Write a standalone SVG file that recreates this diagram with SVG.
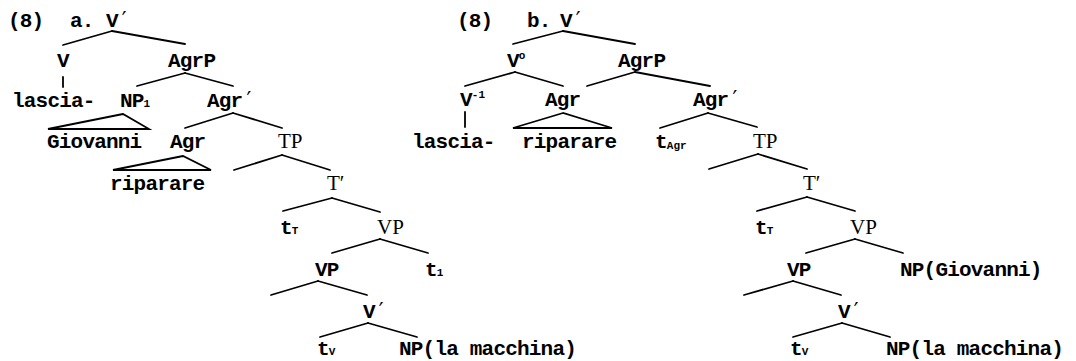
<svg xmlns="http://www.w3.org/2000/svg" width="1076" height="361" viewBox="0 0 1076 361">
<style>
text{font-family:"Liberation Mono","DejaVu Sans Mono",monospace;font-size:21px;font-weight:bold;fill:#000;letter-spacing:-0.8px}
text.s{font-family:"Liberation Serif","DejaVu Serif",serif;font-weight:normal;letter-spacing:0}
.p{font-family:"DejaVu Sans Mono",monospace;font-weight:normal}
.sub{font-size:11px;letter-spacing:0}
.sup{font-size:11px;letter-spacing:0}
#connectors line,#connectors polygon{stroke:#000;stroke-width:1.8;fill:none;stroke-linecap:round}
</style>
<rect width="1076" height="361" fill="#fff"/>
<g id="connectors">
<line x1="112" y1="31" x2="63" y2="45"/><line x1="112" y1="31" x2="185" y2="44"/>
<line x1="63" y1="77" x2="63" y2="87"/>
<line x1="185" y1="73" x2="137" y2="86"/><line x1="185" y1="73" x2="233" y2="86"/>
<polygon points="123,114 48,129 149,129"/>
<line x1="233" y1="113" x2="185" y2="128"/><line x1="233" y1="113" x2="282" y2="128"/>
<polygon points="183,156 113,170 211,170"/>
<line x1="282" y1="155" x2="234" y2="170"/><line x1="282" y1="155" x2="330" y2="170"/>
<line x1="332" y1="198" x2="283" y2="211"/><line x1="332" y1="198" x2="380" y2="212"/>
<line x1="380" y1="239" x2="332" y2="253"/><line x1="380" y1="239" x2="428" y2="253"/>
<line x1="318" y1="281" x2="271" y2="295"/><line x1="318" y1="281" x2="367" y2="295"/>
<line x1="368" y1="323" x2="320" y2="337"/><line x1="368" y1="323" x2="417" y2="337"/>
<line x1="563" y1="31" x2="513" y2="44"/><line x1="563" y1="31" x2="635" y2="44"/>
<line x1="515" y1="72" x2="465" y2="86"/><line x1="515" y1="72" x2="563" y2="86"/>
<line x1="635" y1="72" x2="587" y2="86"/><line x1="635" y1="72" x2="710" y2="86"/>
<line x1="465" y1="112" x2="465" y2="127"/>
<polygon points="563,113 513,128 612,128"/>
<line x1="708" y1="113" x2="660" y2="128"/><line x1="708" y1="113" x2="757" y2="127"/>
<line x1="758" y1="154" x2="709" y2="169"/><line x1="758" y1="154" x2="807" y2="169"/>
<line x1="807" y1="197" x2="757" y2="211"/><line x1="807" y1="197" x2="855" y2="211"/>
<line x1="855" y1="239" x2="806" y2="253"/><line x1="855" y1="239" x2="903" y2="253"/>
<line x1="793" y1="281" x2="744" y2="295"/><line x1="793" y1="281" x2="841" y2="295"/>
<line x1="842" y1="323" x2="793" y2="337"/><line x1="842" y1="323" x2="890" y2="337"/>
</g>
<g id="a-label"><text x="8" y="27">(8)</text><text x="70" y="27">a.</text></g>
<g id="a-Vbar"><text x="106" y="27">V<tspan class="p">′</tspan></text></g>
<g id="a-V"><text x="57" y="67">V</text></g>
<g id="a-AgrP"><text x="168" y="67">AgrP</text></g>
<g id="a-lascia"><text x="12" y="107">lascia-</text></g>
<g id="a-NP1"><text x="120" y="107">NP<tspan class="sub">1</tspan></text></g>
<g id="a-Agrbar"><text x="207" y="107">Agr<tspan class="p">′</tspan></text></g>
<g id="a-Giovanni"><text x="47" y="148">Giovanni</text></g>
<g id="a-Agr"><text x="170" y="148">Agr</text></g>
<g id="a-TP"><text class="s" x="278" y="148">TP</text></g>
<g id="a-riparare"><text x="110" y="190">riparare</text></g>
<g id="a-Tbar"><text class="s" x="327" y="190">T′</text></g>
<g id="a-tT"><text x="280" y="234">t<tspan class="sub">T</tspan></text></g>
<g id="a-VP1"><text class="s" x="377" y="234">VP</text></g>
<g id="a-VP2"><text x="315" y="276">VP</text></g>
<g id="a-t1"><text x="425" y="276">t<tspan class="sub">1</tspan></text></g>
<g id="a-Vbar2"><text x="363" y="318">V<tspan class="p">′</tspan></text></g>
<g id="a-tV"><text x="317" y="355">t<tspan class="sub">V</tspan></text></g>
<g id="a-NP"><text x="399" y="355">NP(la macchina)</text></g>
<g id="b-label"><text x="457" y="27">(8)</text><text x="527" y="27">b.</text></g>
<g id="b-Vbar"><text x="560" y="27">V<tspan class="p">′</tspan></text></g>
<g id="b-V0"><text x="507" y="67">V<tspan class="sup" dy="-8">o</tspan></text></g>
<g id="b-AgrP"><text x="618" y="67">AgrP</text></g>
<g id="b-V-1"><text x="460" y="106">V<tspan class="sup" dy="-8">-1</tspan></text></g>
<g id="b-Agr"><text x="545" y="106">Agr</text></g>
<g id="b-Agrbar"><text x="693" y="106">Agr<tspan class="p">′</tspan></text></g>
<g id="b-lascia"><text x="412" y="148">lascia-</text></g>
<g id="b-riparare"><text x="522" y="148">riparare</text></g>
<g id="b-tAgr"><text x="655" y="148">t<tspan class="sub" dy="1">Agr</tspan></text></g>
<g id="b-TP"><text class="s" x="753" y="148">TP</text></g>
<g id="b-Tbar"><text class="s" x="803" y="190">T′</text></g>
<g id="b-tT"><text x="755" y="234">t<tspan class="sub">T</tspan></text></g>
<g id="b-VP1"><text class="s" x="850" y="234">VP</text></g>
<g id="b-VP2"><text x="787" y="276">VP</text></g>
<g id="b-NPG"><text x="900" y="276">NP(Giovanni)</text></g>
<g id="b-Vbar2"><text x="838" y="318">V<tspan class="p">′</tspan></text></g>
<g id="b-tV"><text x="790" y="355">t<tspan class="sub">V</tspan></text></g>
<g id="b-NP"><text x="886" y="355">NP(la macchina)</text></g>
</svg>
